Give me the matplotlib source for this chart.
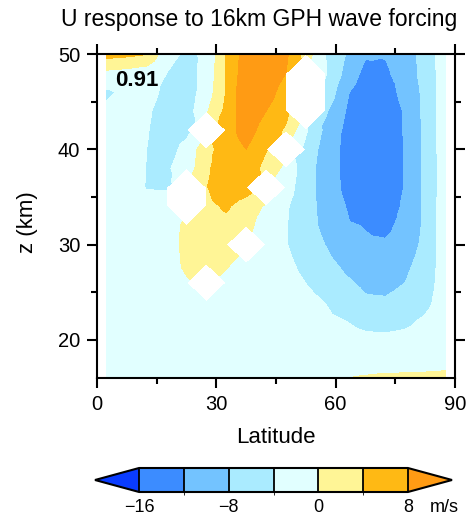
import numpy as np
import matplotlib
matplotlib.use('Agg')
import matplotlib.pyplot as plt
import matplotlib.tri as mtri
from matplotlib.colors import ListedColormap, BoundaryNorm

plt.rcParams['font.family'] = ['Liberation Sans', 'DejaVu Sans']

nan = np.nan

# model grid: 5 deg latitude, 2 km height
lat = [2.5, 7.5, 12.5, 17.5, 22.5, 27.5, 32.5, 37.5, 42.5,
       47.5, 52.5, 57.5, 62.5, 67.5, 72.5, 77.5, 82.5, 87.5]
z_km = [50, 48, 46, 44, 42, 40, 38, 36, 34, 32, 30, 28, 26, 24, 22, 20, 18, 16]

# zonal wind response (m/s), one row per height from 50 km down; nan = missing
u_resp = [
    [5.5, 5.0, 4.2, -3.0, -4.5, -3.6, 4.2, 10.0, 11.0, 8.5, 2.0, -4.0, -8.0, -11.5, -11.8, -10.5, -6.0, -2.0],
    [-1.0, -1.5, -2.5, -4.0, -5.5, -2.9, 4.3, 10.5, 11.0, 8.0, nan, -3.8, -9.0, -13.2, -12.5, -10.5, -6.5, -2.0],
    [-4.5, -3.3, -2.5, -5.0, -6.0, -2.2, 4.2, 11.5, 10.0, 6.0, nan, -4.5, -11.5, -14.0, -14.5, -10.2, -7.2, -1.5],
    [-3.3, -2.5, -3.5, -5.5, -6.0, -0.5, 5.0, 11.0, 8.0, 5.0, nan, -7.5, -12.0, -15.0, -15.0, -11.5, -7.0, -1.8],
    [-2.5, -2.5, -3.8, -5.5, -5.0, nan, 6.0, 10.0, 6.0, 3.5, -3.5, -9.0, -12.8, -15.5, -15.5, -11.5, -7.2, -1.7],
    [-2.0, -2.3, -4.0, -5.5, -2.9, 2.6, 6.0, 8.0, 4.3, nan, -5.0, -10.0, -13.0, -15.8, -15.8, -11.6, -7.2, -1.8],
    [-1.8, -2.2, -4.1, -4.5, -2.2, 3.0, 7.5, 7.0, 2.5, -1.0, -6.5, -9.7, -13.0, -15.8, -15.8, -11.6, -7.2, -1.9],
    [-1.5, -2.0, -4.2, -4.3, nan, 3.8, 7.0, 6.0, nan, -2.5, -6.0, -10.2, -12.7, -15.8, -15.8, -11.6, -7.2, -2.0],
    [-1.4, -1.8, -2.5, -2.5, nan, 3.0, 4.5, 2.0, -0.5, -3.6, -6.0, -9.8, -12.0, -15.2, -15.5, -10.8, -7.4, -1.5],
    [-1.2, -1.5, -2.0, -1.5, 0.7, 2.5, 3.0, 2.0, -3.0, -3.8, -6.5, -9.0, -11.5, -12.2, -13.5, -10.0, -7.5, -1.5],
    [-1.0, -1.3, -1.7, -1.5, 0.8, 2.2, 1.5, nan, -3.0, -3.8, -6.0, -8.1, -10.5, -11.5, -11.3, -9.5, -7.3, -1.5],
    [-1.0, -1.2, -1.5, -1.3, 0.5, 1.5, 0.3, -1.0, -2.5, -3.2, -5.0, -7.0, -8.8, -9.5, -9.8, -8.7, -6.8, -1.8],
    [-1.0, -1.1, -1.3, -1.2, -0.3, nan, -0.8, -1.5, -2.0, -2.8, -4.05, -5.5, -7.5, -8.7, -9.0, -8.0, -6.0, -2.0],
    [-0.8, -1.0, -1.1, -1.1, -1.0, -1.0, -1.2, -1.5, -1.8, -2.3, -3.0, -4.1, -6.0, -7.5, -7.6, -6.8, -5.2, -1.8],
    [-0.7, -0.8, -0.9, -0.9, -0.9, -0.9, -1.0, -1.2, -1.5, -1.9, -2.6, -3.3, -4.0, -5.0, -5.2, -4.8, -3.4, -1.5],
    [-0.6, -0.7, -0.8, -0.8, -0.8, -0.8, -0.9, -1.0, -1.2, -1.5, -2.0, -2.5, -2.9, -3.2, -3.3, -3.0, -2.4, -1.2],
    [-0.5, -0.6, -0.6, -0.6, -0.6, -0.7, -0.7, -0.8, -0.9, -1.0, -1.2, -1.4, -1.6, -1.7, -1.7, -1.6, -1.4, -1.0],
    [-0.4, -0.4, -0.5, -0.5, -0.5, -0.5, -0.5, -0.5, -0.5, -0.5, -0.4, -0.2, -0.05, 0.3, 0.55, 0.6, 0.62, 0.65],
]

levels = [-16, -12, -8, -4, 0, 4, 8]
fill_colors = ['#3c8cff', '#73c3ff', '#aaebff', '#e1ffff', '#fff596', '#ffb914']
under_color = '#0a3cff'
over_color = '#ff9b14'
cbar_ticks = [-16, -8, 0, 8]
corr_text = '0.91'

# split every grid cell into 4 triangles around its centre; triangles that
# touch a missing point are dropped, which leaves diamond shaped holes
u = np.array(u_resp, dtype=float)
ny, nx = u.shape
lon2d, z2d = np.meshgrid(lat, z_km)
xs = list(lon2d.ravel())
ys = list(z2d.ravel())
vals = list(u.ravel())
flat = u.ravel()
tris, dropped = [], []
for j in range(ny - 1):
    for i in range(nx - 1):
        corners = [j * nx + i, j * nx + i + 1, (j + 1) * nx + i + 1, (j + 1) * nx + i]
        cv = flat[corners]
        bad = np.isnan(cv)
        c = len(xs)
        xs.append(0.5 * (lat[i] + lat[i + 1]))
        ys.append(0.5 * (z_km[j] + z_km[j + 1]))
        vals.append(np.nanmean(cv) if (~bad).any() else 0.0)
        for k in range(4):
            tris.append([corners[k], corners[(k + 1) % 4], c])
            dropped.append(bad.sum() >= 2 or bad[k] or bad[(k + 1) % 4])

tri = mtri.Triangulation(np.array(xs), np.array(ys), np.array(tris))
tri.set_mask(np.array(dropped))
vals = np.nan_to_num(np.array(vals), nan=0.0)

cmap = ListedColormap(fill_colors).with_extremes(under=under_color, over=over_color)
norm = BoundaryNorm(levels, len(fill_colors))

fig = plt.figure(figsize=(4.69, 5.17), dpi=100)
ax = fig.add_axes([97 / 469, 139 / 517, 358 / 469, 324 / 517])
cs = ax.tricontourf(tri, vals, levels=levels, cmap=cmap, norm=norm, extend='both')

ax.set_xlim(0, 90)
ax.set_ylim(16, 50)
ax.set_xticks([0, 30, 60, 90])
ax.set_xticks([15, 45, 75], minor=True)
ax.set_yticks([20, 30, 40, 50])
ax.set_yticks([25, 35, 45], minor=True)
ax.tick_params(which='both', direction='out', top=True, right=True, width=1.5)
ax.tick_params(which='major', length=7, labelsize=14.5)
ax.tick_params(axis='x', which='major', pad=5)
ax.tick_params(axis='y', which='major', pad=5)
ax.tick_params(which='minor', length=4)
for s in ax.spines.values():
    s.set_linewidth(1.5)

ax.set_xlabel('Latitude', fontsize=16, va='top')
ax.xaxis.set_label_coords(0.5, -0.152)
ax.set_ylabel('z (km)', fontsize=16)
ax.yaxis.set_label_coords(-0.165, 0.48)

ax.text(0.05, 0.90, corr_text, transform=ax.transAxes, fontsize=16,
        fontweight='bold', va='baseline', ha='left')

fig.text(259 / 469, 1 - 26 / 517, 'U response to 16km GPH wave forcing',
         fontsize=16.5, ha='center', va='baseline')

# label bar: the triangles are drawn inside the axes box
cax = fig.add_axes([95 / 469, 25 / 517, 357 / 469, 24 / 517])
cb = fig.colorbar(cs, cax=cax, orientation='horizontal', extendfrac=0.164,
                  drawedges=True, ticks=cbar_ticks)
cb.outline.set_linewidth(1.5)
cb.dividers.set_linewidth(1.3)
cb.dividers.set_color('black')
cax.tick_params(length=0, labelsize=13, pad=5)
fig.text(430 / 469, 1 - 499 / 517, 'm/s', fontsize=13, ha='left', va='top')

fig.savefig('out.png', dpi=100)
